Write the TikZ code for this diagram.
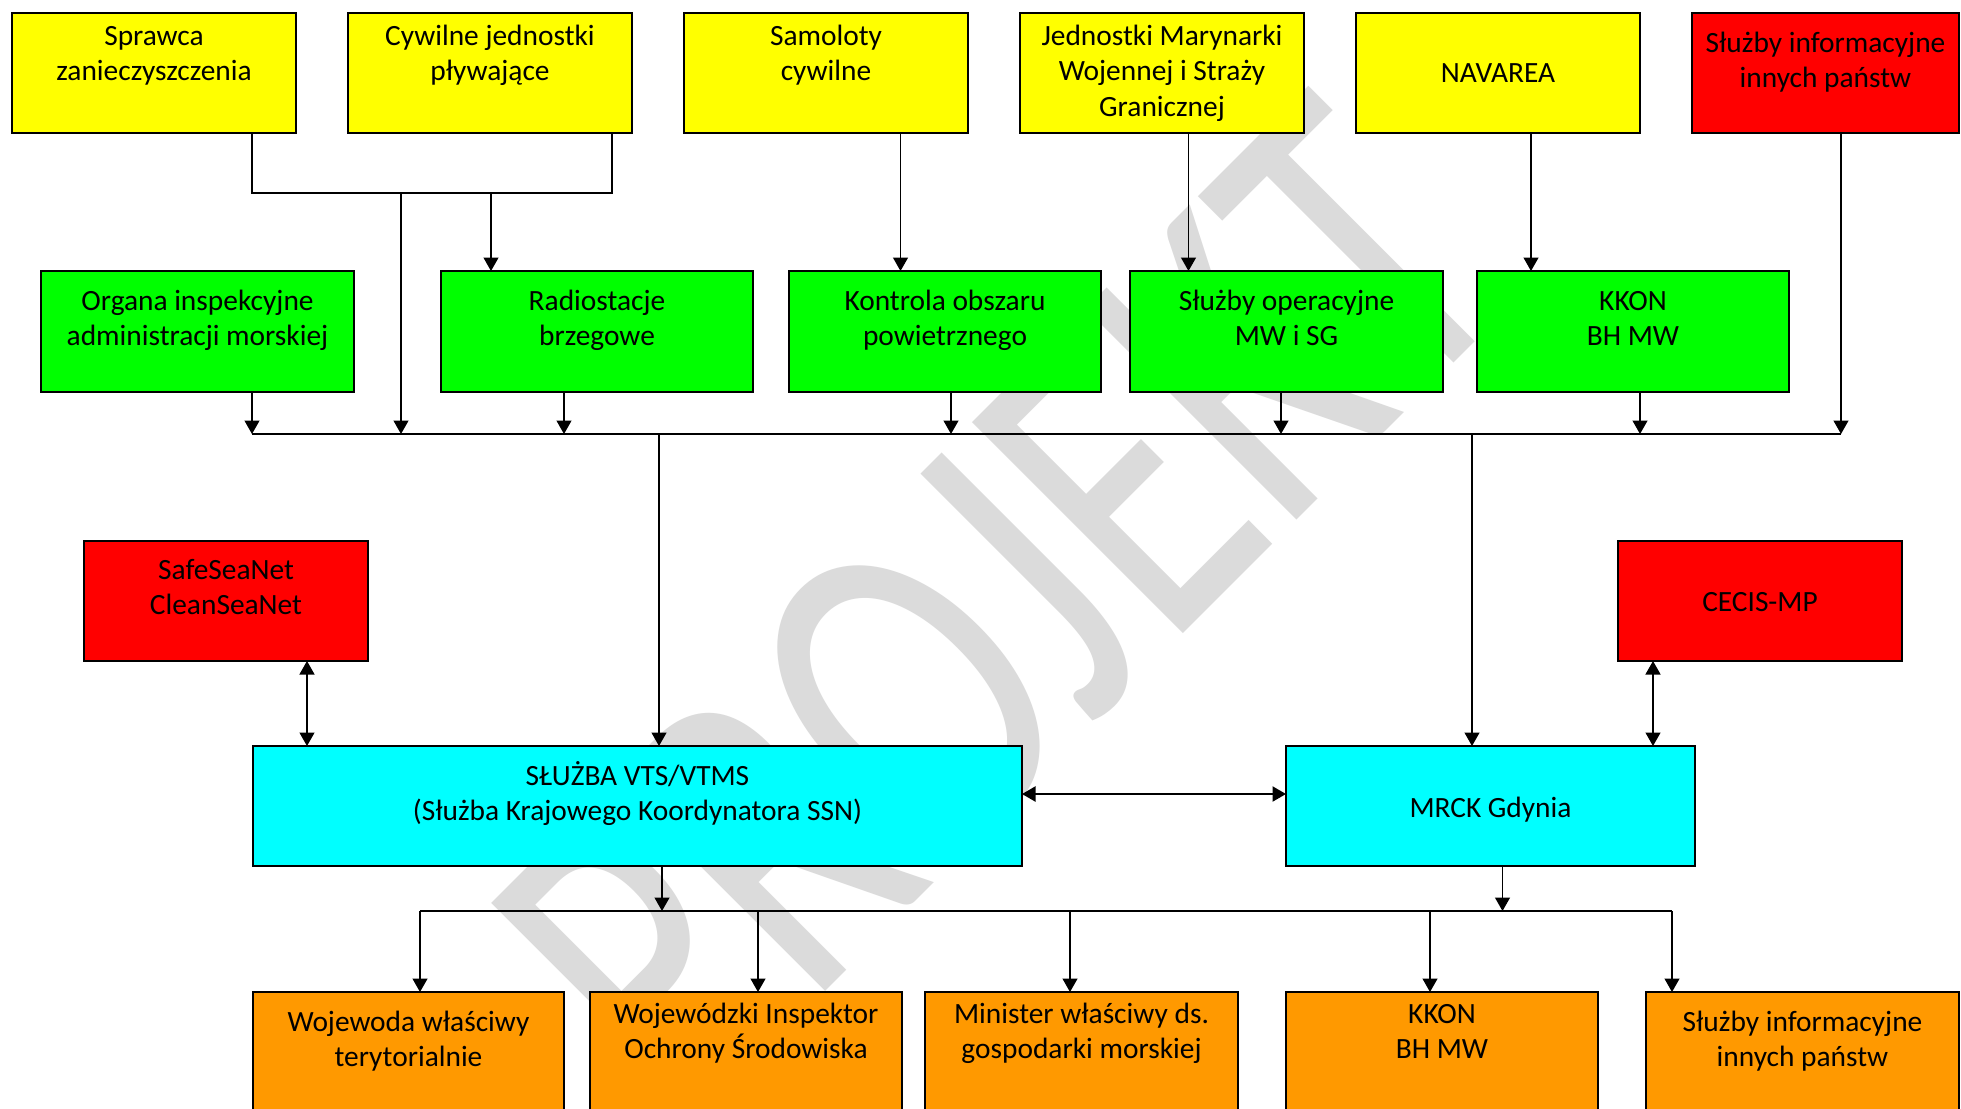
\documentclass[tikz,border=0pt]{standalone}
\usepackage{fontspec}
\setmainfont{Carlito}
\usetikzlibrary{arrows.meta}
\definecolor{cyel}{RGB}{255,255,0}
\definecolor{cgrn}{RGB}{0,255,0}
\definecolor{cred}{RGB}{255,0,0}
\definecolor{ccyn}{RGB}{0,255,255}
\definecolor{corg}{RGB}{255,153,0}
\definecolor{wmark}{RGB}{219,219,219}
% #1 width, #2 height, #3 first baseline offset, #4 text
\newcommand\bt[4]{\parbox[t][#2][t]{#1}{\centering\rule{0pt}{#3}#4\par}}
\tikzset{
  box/.style={draw=black, line width=0.75pt, inner sep=0pt, outer sep=0pt,
    font=\fontsize{14.7pt}{17.75pt}\selectfont},
  yel/.style={box, fill=cyel},
  grn/.style={box, fill=cgrn},
  red/.style={box, fill=cred},
  cyn/.style={box, fill=ccyn},
  org/.style={box, fill=corg},
  conn/.style={line width=0.65pt},
  tip/.tip={Triangle[length=6.75pt,width=7.5pt]},
  arr/.style={conn, -tip},
  darr/.style={conn, tip-tip},
  wm/.style={anchor=base west, rotate=45, yscale=1.38, inner sep=0pt,
    text=wmark, font=\fontsize{168.5pt}{170pt}\selectfont}
}
\begin{document}
\begin{tikzpicture}[x=0.5pt, y=-0.5pt]
\useasboundingbox (0,0) rectangle (1961,1109);
\clip (0,0) rectangle (1961,1109);
\fill[white] (0,0) rectangle (1961,1109);
% watermark
\node[wm] (wmk) at (685,1132) {PROJEKT};
% top row
\node[yel] (sprawca) at (154,73) {\bt{142pt}{60pt}{16pt}{Sprawca\\zanieczyszczenia}};
\node[yel] (cywilne) at (490,73) {\bt{142pt}{60pt}{16pt}{Cywilne jednostki\\pływające}};
\node[yel] (samoloty) at (826,73) {\bt{142pt}{60pt}{16pt}{Samoloty\\cywilne}};
\node[yel] (jednostki) at (1162,73) {\bt{142pt}{60pt}{16pt}{Jednostki Marynarki\\Wojennej i Straży\\Granicznej}};
\node[yel] (navarea) at (1498,73) {\bt{142pt}{60pt}{34.5pt}{NAVAREA}};
\node[red] (sluzbyinf) at (1825.5,73) {\bt{133.5pt}{60pt}{19.5pt}{Służby informacyjne\\innych państw}};
% green row
\node[grn] (organa) at (197.5,331.5) {\bt{156.5pt}{60.5pt}{19.5pt}{Organa inspekcyjne\\administracji morskiej}};
\node[grn] (radio) at (597,331.5) {\bt{156pt}{60.5pt}{19.5pt}{Radiostacje\\brzegowe}};
\node[grn] (kontrola) at (945,331.5) {\bt{156pt}{60.5pt}{19.5pt}{Kontrola obszaru\\powietrznego}};
\node[grn] (sluzbyop) at (1286.5,331.5) {\bt{156.5pt}{60.5pt}{19.5pt}{Służby operacyjne\\MW i SG}};
\node[grn] (kkon1) at (1633,331.5) {\bt{156pt}{60.5pt}{19.5pt}{KKON\\BH MW}};
% middle
\node[red] (ssn) at (226,601) {\bt{142pt}{60pt}{19pt}{SafeSeaNet\\CleanSeaNet}};
\node[red] (cecis) at (1760,601) {\bt{142pt}{60pt}{35pt}{CECIS-MP}};
\node[cyn] (vts) at (637.5,806) {\bt{384.5pt}{60pt}{19.5pt}{SŁUŻBA VTS/VTMS\\(Służba Krajowego Koordynatora SSN)}};
\node[cyn] (mrck) at (1490.5,806) {\bt{204.5pt}{60pt}{35.5pt}{MRCK Gdynia}};
% bottom row
\node[org] (wojewoda) at (408.5,1061) {\bt{155.5pt}{69pt}{19.5pt}{Wojewoda właściwy\\terytorialnie}};
\node[org] (wios) at (746,1061) {\bt{156pt}{69pt}{15.5pt}{Wojewódzki Inspektor\\Ochrony Środowiska}};
\node[org] (minister) at (1081.5,1061) {\bt{156.5pt}{69pt}{15.5pt}{Minister właściwy ds.\\gospodarki morskiej}};
\node[org] (kkon2) at (1442,1061) {\bt{156pt}{69pt}{15.5pt}{KKON\\BH MW}};
\node[org] (sluzby2) at (1802.5,1061) {\bt{156.5pt}{69pt}{19.5pt}{Służby informacyjne\\innych państw}};
% reference coordinates
\coordinate (j1) at (252,193);
\coordinate (j2) at (612,193);
\coordinate (j3) at (401,193);
\coordinate (j4) at (491,193);
\coordinate (busL) at (252,434);
\coordinate (busR) at (1841,434);
\coordinate (x1) at (900.5,434);
\coordinate (x2) at (1188.5,434);
\coordinate (x3) at (1531,434);
\coordinate (p1) at (564,434);
\coordinate (p2) at (951,434);
\coordinate (p3) at (1281,434);
\coordinate (p4) at (1640,434);
\coordinate (d1) at (659,434);
\coordinate (d2) at (1472,434);
\coordinate (e1) at (307,700);
\coordinate (e2) at (1653,700);
\coordinate (e3) at (1150,794);
\coordinate (b2L) at (420,911);
\coordinate (b2R) at (1672,911);
\coordinate (f1) at (662,911);
\coordinate (f2) at (1502.5,911);
\coordinate (g1) at (758,911);
\coordinate (g2) at (1070,911);
\coordinate (g3) at (1430,911);
% top connectors
\draw[conn] (sprawca.south -| j1) -- (j1) -- (j2) -- (cywilne.south -| j2);
\draw[arr] (j3) -- (j3 |- busL);
\draw[arr] (j4) -- (radio.north -| j4);
\draw[arr] (samoloty.south -| x1) -- (kontrola.north -| x1);
\draw[arr] (jednostki.south -| x2) -- (sluzbyop.north -| x2);
\draw[arr] (navarea.south -| x3) -- (kkon1.north -| x3);
\draw[arr] (sluzbyinf.south -| busR) -- (busR);
% upper bus
\draw[conn] (busL) -- (busR);
\draw[arr] (organa.south -| busL) -- (busL);
\draw[arr] (radio.south -| p1) -- (p1);
\draw[arr] (kontrola.south -| p2) -- (p2);
\draw[arr] (sluzbyop.south -| p3) -- (p3);
\draw[arr] (kkon1.south -| p4) -- (p4);
\draw[arr] (d1) -- (vts.north -| d1);
\draw[arr] (d2) -- (mrck.north -| d2);
% middle links
\draw[darr] (ssn.south -| e1) -- (vts.north -| e1);
\draw[darr] (cecis.south -| e2) -- (mrck.north -| e2);
\draw[darr, line width=1.1pt] (vts.east |- e3) -- (mrck.west |- e3);
% lower bus
\draw[arr] (vts.south -| f1) -- (f1);
\draw[arr] (mrck.south -| f2) -- (f2);
\draw[conn] (b2L) -- (b2R);
\draw[arr] (b2L) -- (wojewoda.north -| b2L);
\draw[arr] (g1) -- (wios.north -| g1);
\draw[arr] (g2) -- (minister.north -| g2);
\draw[arr] (g3) -- (kkon2.north -| g3);
\draw[arr] (b2R) -- (sluzby2.north -| b2R);
\end{tikzpicture}
\end{document}
